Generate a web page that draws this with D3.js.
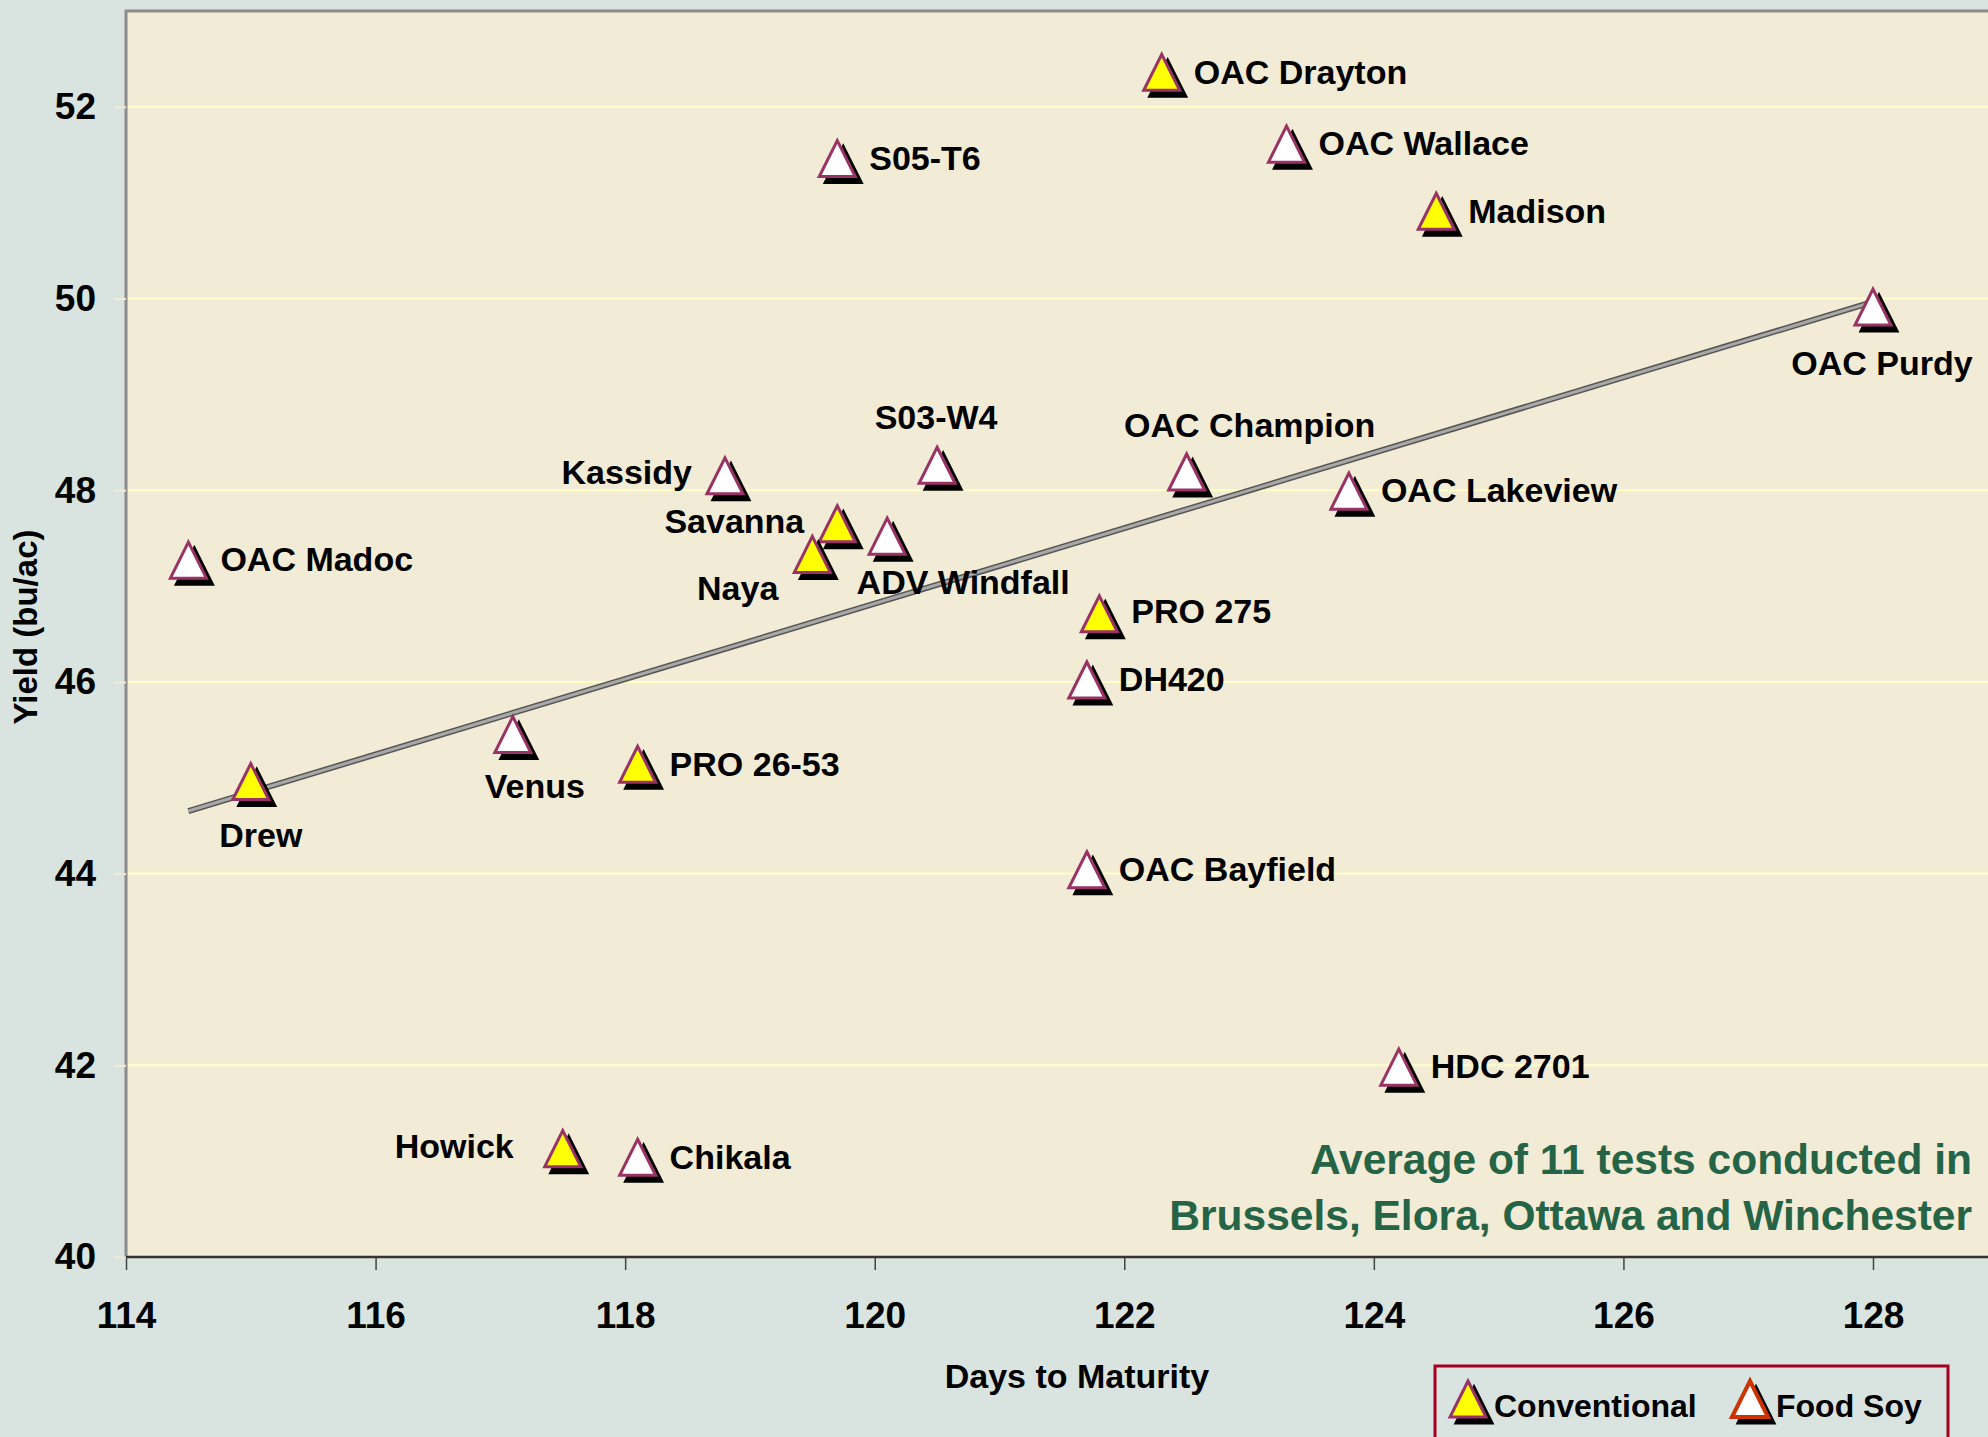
<!DOCTYPE html>
<html>
<head>
<meta charset="utf-8">
<script src="https://cdn.jsdelivr.net/npm/d3@7"></script>
<style>
  html, body { margin: 0; padding: 0; background: #d9e3df; }
  svg { display: block; font-family: "Liberation Sans", Arial, sans-serif; font-weight: bold; }
</style>
</head>
<body>
<svg id="chart" width="1988" height="1437"></svg>
<script>
// ---------------------------------------------------------------------------
// Data
// ---------------------------------------------------------------------------
const varieties = ["OAC Drayton", "S05-T6", "OAC Wallace", "Madison", "OAC Purdy",
  "S03-W4", "OAC Champion", "Kassidy", "OAC Lakeview", "Savanna", "ADV Windfall",
  "Naya", "OAC Madoc", "PRO 275", "DH420", "Venus", "PRO 26-53", "Drew",
  "OAC Bayfield", "HDC 2701", "Howick", "Chikala"];
const daysToMaturity = [122.3, 119.7, 123.3, 124.5, 128.0,
  120.5, 122.5, 118.8, 123.8, 119.7, 120.1,
  119.5, 114.5, 121.8, 121.7, 117.1, 118.1, 115.0,
  121.7, 124.2, 117.5, 118.1];
const yieldBuAc = [52.35, 51.45, 51.6, 50.9, 49.9,
  48.25, 48.18, 48.14, 47.98, 47.64, 47.51,
  47.32, 47.26, 46.7, 46.01, 45.44, 45.13, 44.95,
  44.03, 41.97, 41.12, 41.03];
const types = ["Conventional", "Food Soy", "Food Soy", "Conventional", "Food Soy",
  "Food Soy", "Food Soy", "Food Soy", "Food Soy", "Conventional", "Food Soy",
  "Conventional", "Food Soy", "Conventional", "Food Soy", "Food Soy", "Conventional", "Conventional",
  "Food Soy", "Food Soy", "Conventional", "Food Soy"];

const xTicks = [114, 116, 118, 120, 122, 124, 126, 128];
const yTicks = [40, 42, 44, 46, 48, 50, 52];
const legendItems = ["Conventional", "Food Soy"];
const noteLines = ["Average of 11 tests conducted in", "Brussels, Elora, Ottawa and Winchester"];

// label placement: [dx, dy, anchor] relative to the marker
const R = [32, -2, "start"];
const labelPlacement = {
  "OAC Purdy": [9, 55, "middle"],
  "S03-W4": [-1, -50, "middle"],
  "OAC Champion": [63, -48, "middle"],
  "Kassidy": [-33, -5, "end"],
  "Savanna": [-33, -4, "end"],
  "ADV Windfall": [76, 45, "middle"],
  "Naya": [-34, 32, "end"],
  "PRO 275": [32, -4, "start"],
  "Venus": [22, 50, "middle"],
  "Drew": [10, 52, "middle"],
  "Howick": [-49, -4, "end"]
};

// ---------------------------------------------------------------------------
// Layout
// ---------------------------------------------------------------------------
const W = 1988, H = 1437;
const plot = { left: 126, top: 11, right: 1995, bottom: 1257 };

const svg = d3.select("#chart");

const x = d3.scaleLinear().domain([114, 128]).range([126, 1873]);
const y = d3.scaleLinear().domain([40, 53]).range([plot.bottom, plot.top]);

const points = varieties.map((name, i) => ({
  name, x: daysToMaturity[i], y: yieldBuAc[i], type: types[i]
}));

const fills = { "Conventional": "#ffff00", "Food Soy": "#ffffff" };
const tri = "M0,-19 L18,17 L-18,17 Z";

// background
svg.append("rect").attr("width", W).attr("height", H).attr("fill", "#d9e3df");
svg.append("rect")
  .attr("x", plot.left).attr("y", plot.top)
  .attr("width", plot.right - plot.left).attr("height", plot.bottom - plot.top)
  .attr("fill", "#f2ebd5");

// gridlines
svg.append("g").selectAll("line")
  .data(yTicks.filter(d => d > 40))
  .join("line")
  .attr("x1", plot.left).attr("x2", plot.right)
  .attr("y1", d => y(d)).attr("y2", d => y(d))
  .attr("stroke", "#ffffc8").attr("stroke-width", 2);

// linear trend (least squares over the points)
const mx = d3.mean(daysToMaturity), my = d3.mean(yieldBuAc);
const sxy = d3.sum(daysToMaturity, (d, i) => (d - mx) * (yieldBuAc[i] - my));
const sxx = d3.sum(daysToMaturity, d => (d - mx) ** 2);
const slope = sxy / sxx, icpt = my - slope * mx;
const trend = d3.extent(daysToMaturity).map(d => [d, icpt + slope * d]);
const trendLine = d3.line().x(d => x(d[0])).y(d => y(d[1]));
svg.append("path").attr("d", trendLine(trend))
  .attr("stroke", "#555").attr("stroke-width", 6).attr("fill", "none");
svg.append("path").attr("d", trendLine(trend))
  .attr("stroke", "#a8a8a8").attr("stroke-width", 3).attr("fill", "none");

// markers with drop shadow
const mk = svg.append("g").selectAll("g")
  .data(points)
  .join("g")
  .attr("transform", d => `translate(${x(d.x)},${y(d.y)})`);
mk.append("path").attr("d", tri).attr("transform", "translate(6,6)")
  .attr("fill", "#000").attr("stroke", "#000").attr("stroke-width", 3);
mk.append("path").attr("d", tri)
  .attr("fill", d => fills[d.type])
  .attr("stroke", "#993366").attr("stroke-width", 3).attr("stroke-linejoin", "miter");

// point labels
svg.append("g").selectAll("text")
  .data(points)
  .join("text")
  .each(function (d) {
    const p = labelPlacement[d.name] || R;
    d3.select(this)
      .attr("x", x(d.x) + p[0])
      .attr("y", y(d.y) + p[1])
      .attr("text-anchor", p[2]);
  })
  .attr("dy", "0.36em")
  .attr("font-size", 34)
  .attr("fill", "#000")
  .text(d => d.name);

// plot border (top and left)
svg.append("path")
  .attr("d", `M${plot.left},${plot.bottom} V${plot.top} H${plot.right}`)
  .attr("stroke", "#8c8c8c").attr("stroke-width", 3).attr("fill", "none");

// axes
const xAxis = svg.append("g")
  .attr("transform", `translate(0,${plot.bottom})`)
  .call(d3.axisBottom(x).tickValues(xTicks).tickSize(13).tickPadding(32).tickSizeOuter(0));
xAxis.select(".domain").remove();
xAxis.append("line").attr("x1", plot.left).attr("x2", plot.right)
  .attr("stroke", "#333").attr("stroke-width", 2.5);
xAxis.selectAll(".tick line").attr("stroke", "#444").attr("stroke-width", 1.5);
xAxis.selectAll(".tick text").attr("font-size", 37).attr("fill", "#000")
  .attr("font-family", null);

const yAxis = svg.append("g")
  .attr("transform", `translate(${plot.left},0)`)
  .call(d3.axisLeft(y).tickValues(yTicks).tickSize(12).tickPadding(18).tickSizeOuter(0));
yAxis.select(".domain").remove();
yAxis.selectAll(".tick line").attr("stroke", "#f2ebd5").attr("stroke-width", 2);
yAxis.selectAll(".tick text").attr("font-size", 37).attr("fill", "#000")
  .attr("font-family", null);

// axis titles
svg.append("text")
  .attr("x", 1077).attr("y", 1376).attr("dy", "0.36em")
  .attr("text-anchor", "middle").attr("font-size", 34)
  .text("Days to Maturity");
svg.append("text")
  .attr("transform", "translate(25,627) rotate(-90)")
  .attr("dy", "0.36em")
  .attr("text-anchor", "middle").attr("font-size", 33)
  .text("Yield (bu/ac)");

// note
svg.append("g").selectAll("text")
  .data(noteLines)
  .join("text")
  .attr("x", 1972).attr("y", (d, i) => 1159 + i * 56).attr("dy", "0.36em")
  .attr("text-anchor", "end").attr("font-size", 42.5).attr("fill", "#256446")
  .text(d => d);

// legend
const lg = svg.append("g");
lg.append("rect")
  .attr("x", 1435).attr("y", 1366).attr("width", 513).attr("height", 100)
  .attr("fill", "none").attr("stroke", "#a50021").attr("stroke-width", 3);
const legendX = [1468, 1750];
const legendStroke = { "Conventional": "#993366", "Food Soy": "#cc3300" };
const li = lg.selectAll("g.item")
  .data(legendItems)
  .join("g")
  .attr("class", "item")
  .attr("transform", (d, i) => `translate(${legendX[i]},1400)`);
li.append("path").attr("d", tri).attr("transform", "translate(6,6)")
  .attr("fill", "#000").attr("stroke", "#000").attr("stroke-width", 3);
li.append("path").attr("d", tri)
  .attr("fill", d => fills[d])
  .attr("stroke", d => legendStroke[d])
  .attr("stroke-width", (d, i) => i ? 4 : 3);
li.append("text")
  .attr("x", 26).attr("y", 5).attr("dy", "0.36em")
  .attr("font-size", 32)
  .text(d => d);
</script>
</body>
</html>
